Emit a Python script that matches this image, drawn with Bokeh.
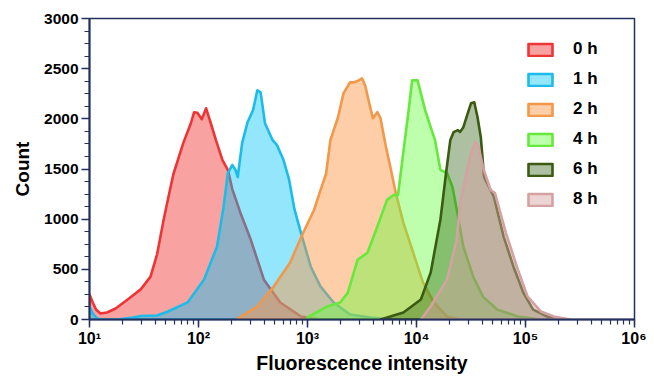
from bokeh.plotting import figure
from bokeh.models import (Range1d, FixedTicker, Legend, LegendItem, LogTicker)
from bokeh.embed import file_html
from bokeh.resources import INLINE

# ---- data (x given as log10 of fluorescence intensity, y = count) ----
labels = ["0 h", "1 h", "2 h", "4 h", "6 h", "8 h"]

h0_logx = [1.00, 1.03, 1.06, 1.10, 1.16, 1.24, 1.35, 1.47, 1.56, 1.62, 1.68, 1.73, 1.77,
           1.86, 1.93, 1.96, 1.99, 2.03, 2.07, 2.11, 2.16, 2.22, 2.27, 2.31, 2.385, 2.48,
           2.60, 2.75, 2.94, 3.12]
h0_cnt = [250, 170, 100, 60, 70, 110, 199, 300, 427, 650, 993, 1250, 1450,
          1758, 1956, 2066, 2060, 1996, 2105, 1966, 1787, 1589, 1490, 1300, 1062, 794,
          397, 169, 30, 0]

h1_logx = [1.00, 1.03, 1.07, 1.12, 1.25, 1.40, 1.47, 1.62, 1.72, 1.90, 2.05, 2.17, 2.23,
           2.27, 2.31, 2.34, 2.36, 2.40, 2.45, 2.50, 2.54, 2.57, 2.61, 2.68, 2.72, 2.78,
           2.83, 2.88, 2.94, 3.03, 3.12, 3.24, 3.39, 3.58, 3.76]
h1_cnt = [130, 60, 10, 0, 0, 20, 35, 40, 80, 170, 397, 725, 1122,
          1460, 1540, 1490, 1420, 1758, 1966, 2085, 2284, 2264, 1956, 1787, 1738, 1589,
          1400, 1100, 864, 526, 328, 169, 50, 20, 0]

h2_logx = [2.36, 2.54, 2.69, 2.84, 2.96, 3.06, 3.12, 3.17, 3.21, 3.28, 3.33, 3.39, 3.42,
           3.47, 3.50, 3.53, 3.56, 3.60, 3.64, 3.67, 3.72, 3.76, 3.81, 3.88, 3.97, 4.06,
           4.16, 4.28, 4.40]
h2_cnt = [10, 130, 328, 566, 864, 1092, 1291, 1450, 1787, 2016, 2254, 2363, 2363,
          2383, 2403, 2330, 2185, 2006, 2066, 2006, 1718, 1519, 1260, 963, 665, 367,
          169, 30, 0]

h4_logx = [3.00, 3.18, 3.30, 3.37, 3.46, 3.55, 3.64, 3.73, 3.79, 3.83, 3.87, 3.92, 3.96,
           4.01, 4.04, 4.08, 4.13, 4.17, 4.22, 4.28, 4.33, 4.37, 4.43, 4.52, 4.61, 4.74,
           4.93, 5.14]
h4_cnt = [20, 130, 169, 268, 596, 665, 924, 1192, 1241, 1241, 1589, 2016, 2383,
          2383, 2254, 2085, 1917, 1787, 1490, 1460, 1321, 1092, 725, 427, 228, 99,
          30, 0]

h6_logx = [3.67, 3.88, 4.04, 4.13, 4.22, 4.27, 4.31, 4.34, 4.38, 4.40, 4.43, 4.47, 4.50,
           4.53, 4.56, 4.59, 4.62, 4.71, 4.80, 4.89, 4.98, 5.07, 5.20, 5.32]
h6_cnt = [0, 70, 199, 467, 1000, 1450, 1787, 1867, 1887, 1870, 1917, 2055, 2155,
          2165, 2016, 1817, 1420, 1221, 824, 526, 268, 99, 30, 0]

h8_logx = [4.04, 4.13, 4.28, 4.37, 4.40, 4.43, 4.50, 4.54, 4.57, 4.61, 4.68, 4.72, 4.82,
           4.93, 5.02, 5.14, 5.26, 5.41]
h8_cnt = [0, 130, 397, 800, 1150, 1321, 1658, 1767, 1718, 1519, 1291, 1261, 864,
          497, 228, 80, 30, 0]

series_logx = [h0_logx, h1_logx, h2_logx, h4_logx, h6_logx, h8_logx]
series_cnt = [h0_cnt, h1_cnt, h2_cnt, h4_cnt, h6_cnt, h8_cnt]

line_colors = ["#ee3535", "#1cbce8", "#f2984a", "#66e83c", "#3b5a12", "#d4a2a2"]
fill_colors = ["#f03c3c", "#00c3f8", "#fa9646", "#64ff3c", "#285a0a", "#d7a0a0"]
fill_alphas = [0.48, 0.42, 0.47, 0.42, 0.38, 0.45]

x_tick_vals = [10, 100, 1000, 10000, 100000, 1000000]
x_tick_text = ["10¹", "10²", "10³", "10⁴", "10⁵", "10⁶"]
y_tick_vals = [0, 500, 1000, 1500, 2000, 2500, 3000]

FONT = "Liberation Sans"
NAVY = "#24305e"

p = figure(width=646, height=376, x_axis_type="log", output_backend="svg",
           toolbar_location=None, x_range=Range1d(10, 1e6), y_range=Range1d(0, 3000),
           min_border_left=89, min_border_right=12, min_border_top=18, min_border_bottom=56)
p.grid.visible = False
p.outline_line_color = NAVY
p.outline_line_width = 1.5
p.background_fill_color = "white"

renderers = []
for lx, cnt, lc, fc, fa in zip(series_logx, series_cnt, line_colors, fill_colors, fill_alphas):
    xs = [10 ** v for v in lx]
    ys = list(cnt)
    xs_poly = [xs[0]] + xs + [xs[-1]]
    ys_poly = [0] + ys + [0]
    r = p.patch(xs_poly, ys_poly, fill_color=fc, fill_alpha=fa,
                line_color=lc, line_width=2.6, line_join="round")
    renderers.append(r)

legend = Legend(items=[LegendItem(label=l, renderers=[r]) for l, r in zip(labels, renderers)],
                location=(436, 110), orientation="vertical")
legend.border_line_color = None
legend.background_fill_alpha = 0
legend.padding = 0
legend.margin = 0
legend.glyph_width = 30
legend.glyph_height = 15
legend.label_height = 15
legend.spacing = 10
legend.label_standoff = 18
legend.label_text_font = FONT
legend.label_text_font_style = "bold"
legend.label_text_font_size = "17px"
legend.label_text_color = "black"
p.add_layout(legend, "center")

# axes styling
for ax in (p.xaxis[0], p.yaxis[0]):
    ax.axis_line_color = NAVY
    ax.axis_line_width = 2
    ax.major_tick_line_color = NAVY
    ax.minor_tick_line_color = NAVY
    ax.major_tick_line_width = 1.5
    ax.minor_tick_line_width = 1.2
    ax.major_tick_out = 8
    ax.major_tick_in = 0
    ax.minor_tick_out = 5
    ax.minor_tick_in = 0
    ax.major_label_text_font = FONT
    ax.major_label_text_font_style = "bold"
    ax.major_label_text_font_size = "15.5px"
    ax.major_label_text_color = "black"
    ax.axis_label_text_font = FONT
    ax.axis_label_text_font_style = "bold"
    ax.axis_label_text_color = "black"

p.yaxis.ticker = FixedTicker(ticks=y_tick_vals,
                             minor_ticks=[v for v in range(0, 3001, 125) if v % 500])
p.yaxis.axis_label = "Count"
p.yaxis.axis_label_text_font_size = "19px"
p.yaxis.axis_label_standoff = 8
p.yaxis.major_label_standoff = 3

p.xaxis.ticker = LogTicker(num_minor_ticks=10)
p.xaxis.major_label_overrides = {v: t for v, t in zip(x_tick_vals, x_tick_text)}
p.xaxis.major_label_text_font_size = "16px"
p.xaxis.axis_label = "Fluorescence intensity"
p.xaxis.axis_label_text_font_size = "19.5px"
p.xaxis.axis_label_standoff = 2
p.xaxis.major_label_standoff = 2

open("out.html", "w").write(file_html(p, INLINE))
